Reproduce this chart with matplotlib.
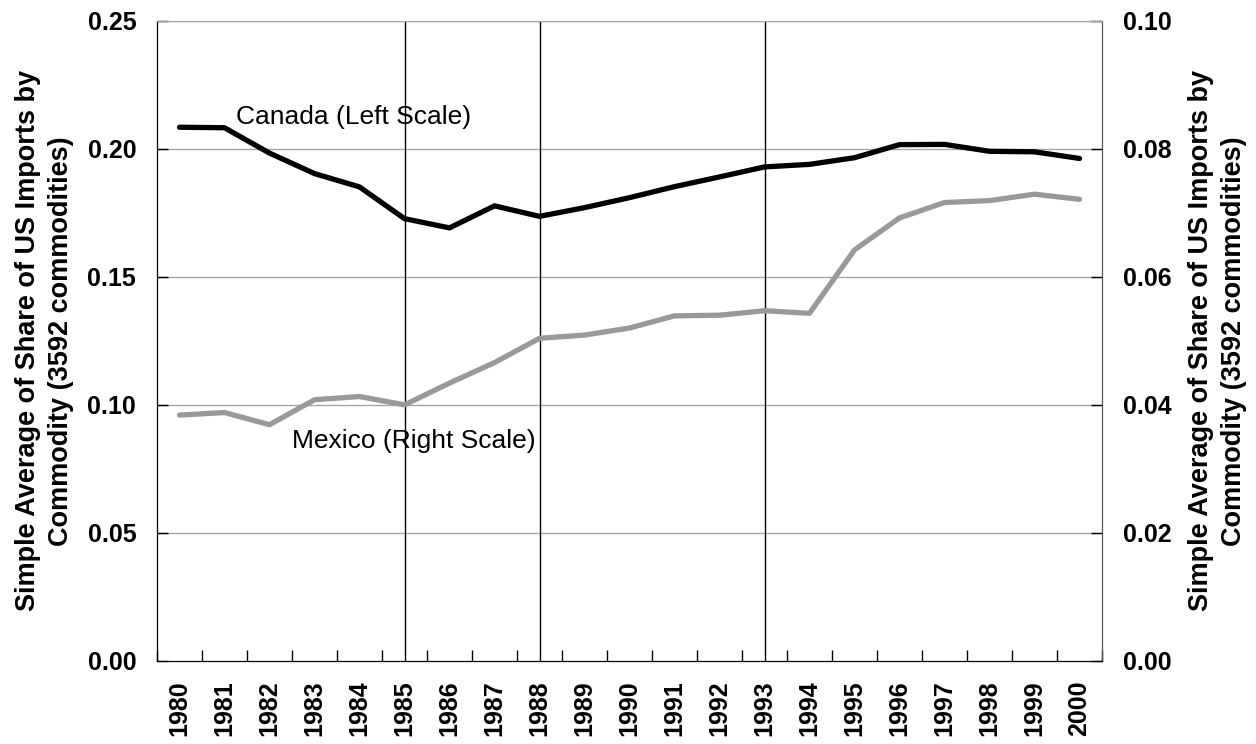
import numpy as np
import matplotlib.pyplot as plt

plt.rcParams["font.family"] = ["Liberation Sans", "DejaVu Sans"]

years = [str(y) for y in range(1980, 2001)]
canada = [0.2084, 0.2082, 0.1983, 0.1903, 0.1851, 0.1727, 0.1691, 0.1777, 0.1736,
          0.1770, 0.1809, 0.1852, 0.1890, 0.1929, 0.1939, 0.1965, 0.2016, 0.2017,
          0.1990, 0.1988, 0.1962]
mexico = [0.0384, 0.0388, 0.0369, 0.0408, 0.0413, 0.0400, 0.0434, 0.0466, 0.0504,
          0.0509, 0.0520, 0.0539, 0.0540, 0.0547, 0.0543, 0.0642, 0.0692, 0.0716,
          0.0719, 0.0729, 0.0721]
marked_years = ["1985", "1988", "1993"]
left_ticks = [0.00, 0.05, 0.10, 0.15, 0.20, 0.25]
right_ticks = [0.00, 0.02, 0.04, 0.06, 0.08, 0.10]
ylabel = "Simple Average of Share of US Imports by\nCommodity (3592 commodities)"

x = np.arange(len(years))

fig, ax = plt.subplots(figsize=(12.56, 7.44), dpi=100)
fig.subplots_adjust(left=0.125, right=0.8774, top=0.9722, bottom=0.1116)

for t in left_ticks[1:]:
    ax.axhline(t, color="#a6a6a6", lw=1.0, zorder=1)
for yr in marked_years:
    ax.axvline(years.index(yr), color="black", lw=1.0, zorder=2)

ax.plot(x, canada, color="black", lw=3.8, zorder=4, solid_capstyle="round")
ax.set_xlim(-0.5, len(years) - 0.5)
ax.set_ylim(0, 0.25)
ax.set_yticks(left_ticks)
ax.set_yticklabels([f"{t:.2f}" for t in left_ticks], fontsize=18, fontweight="bold")
ax.set_xticks(x)
ax.set_xticklabels(years, rotation=90, fontsize=18, fontweight="bold")
ax.set_xticks(np.arange(-0.5, len(years), 1.0), minor=True)
ax.tick_params(axis="x", which="major", length=0, pad=14)
ax.tick_params(axis="x", which="minor", direction="in", length=8, width=1)
ax.tick_params(axis="y", direction="in", length=8, width=1, pad=15)
ax.set_ylabel(ylabel, fontsize=19.5, fontweight="bold", labelpad=10, linespacing=1.35)
ax.text(1.25, 0.2122, "Canada (Left Scale)", fontsize=19, ha="left", va="center", zorder=5)

ax2 = ax.twinx()
ax2.plot(x, mexico, color="#999999", lw=3.8, zorder=4, solid_capstyle="round")
ax2.set_ylim(0, 0.10)
ax2.set_yticks(right_ticks)
ax2.set_yticklabels([f"{t:.2f}" for t in right_ticks], fontsize=18, fontweight="bold")
ax2.tick_params(axis="y", direction="in", length=8, width=1, pad=15)
ax2.set_ylabel(ylabel, fontsize=19.5, fontweight="bold", rotation=90, labelpad=12,
               linespacing=1.35)
ax2.text(2.5, 0.0343, "Mexico (Right Scale)", fontsize=19, ha="left", va="center", zorder=5)

for a in (ax, ax2):
    a.spines["top"].set_color("#a6a6a6")
    a.spines["left"].set_color("black")
    a.spines["right"].set_color("#555555")
    a.spines["bottom"].set_color("black")

fig.savefig("out.png", dpi=100)
